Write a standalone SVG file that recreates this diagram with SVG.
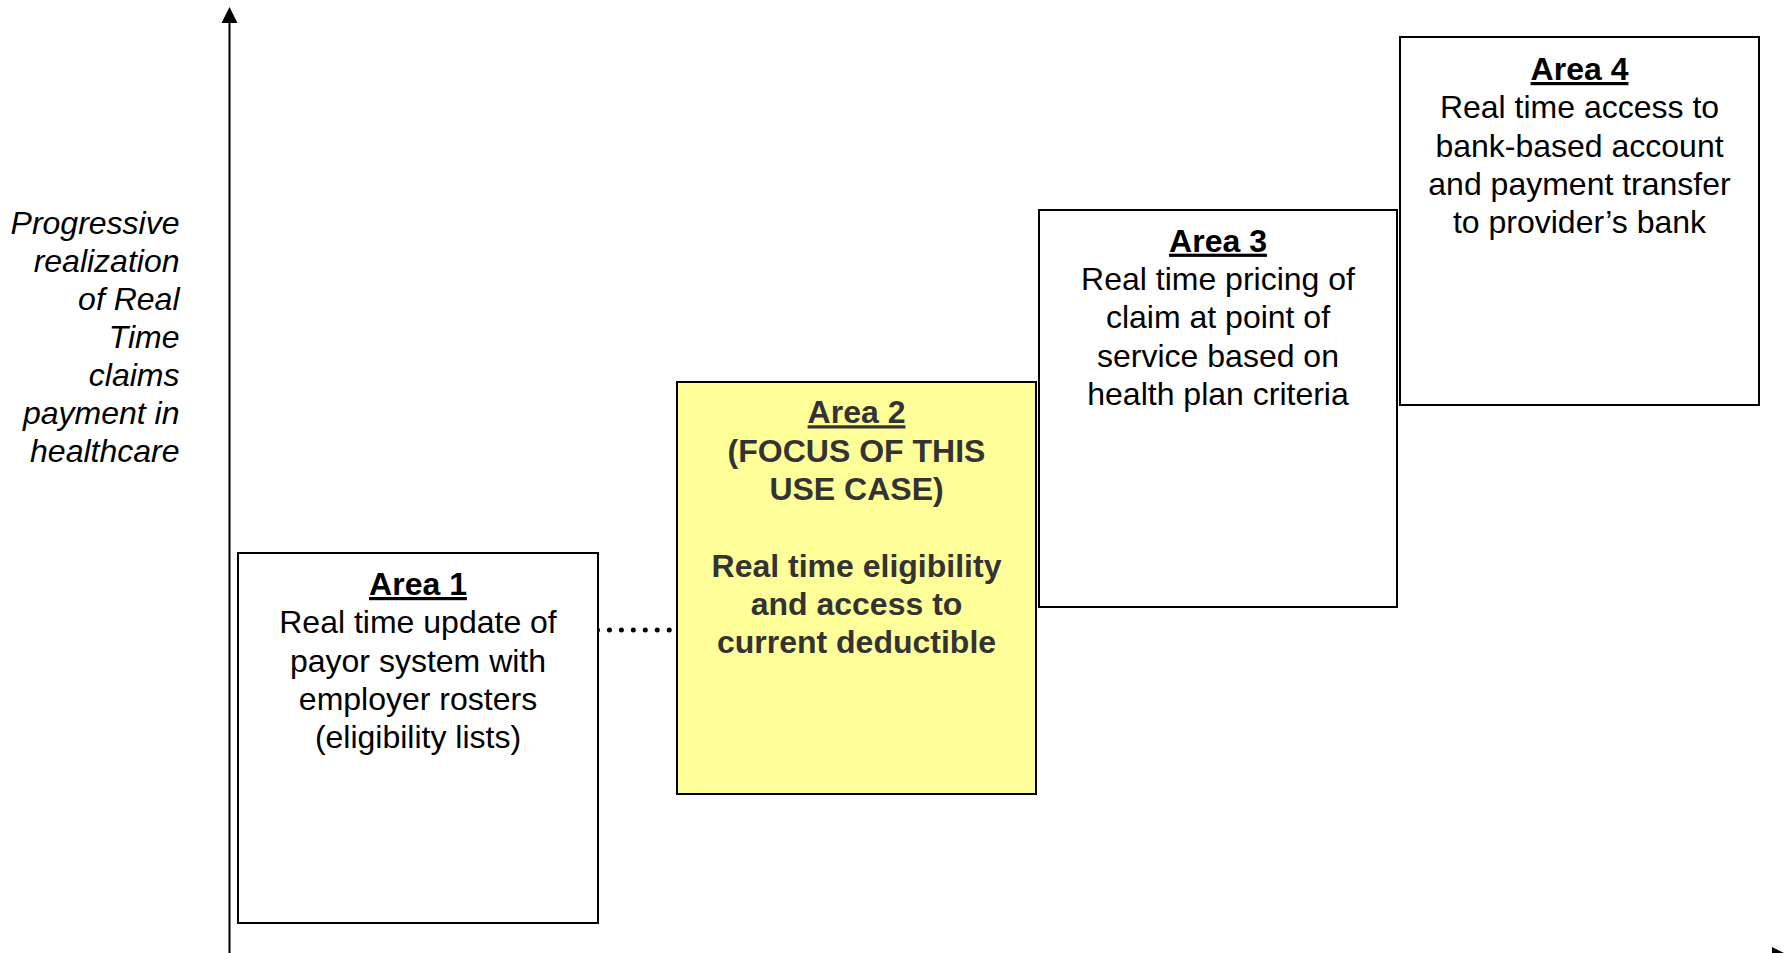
<svg xmlns="http://www.w3.org/2000/svg" width="1785" height="953" viewBox="0 0 1785 953">
  <style>
    .box { fill: #ffffff; stroke: #000000; stroke-width: 2; }
    .focus { fill: #ffff99; stroke: #000000; stroke-width: 2; }
    .txt { font-family: "Liberation Sans", Arial, sans-serif; font-size: 32px; fill: #000000; text-anchor: middle; }
    .dark { fill: #333333; font-weight: bold; }
    .title { font-weight: bold; text-decoration: underline; }
    .axis { stroke: #000000; stroke-width: 2; fill: none; }
    .label { font-family: "Liberation Sans", Arial, sans-serif; font-size: 32px; font-style: italic; fill: #000000; text-anchor: end; }
  </style>

  <!-- axes -->
  <g id="axes">
    <line class="axis" x1="229.5" y1="953" x2="229.5" y2="22"/>
    <polygon points="221.5,23 229.5,7 237.5,23" fill="#000000"/>
    <line class="axis" x1="229.5" y1="955" x2="1773" y2="955"/>
    <polygon points="1772,947 1788,955 1772,963" fill="#000000"/>
  </g>

  <!-- vertical axis caption -->
  <g id="axis-label">
    <text class="label" x="179.5" y="234">Progressive</text>
    <text class="label" x="179.5" y="272">realization</text>
    <text class="label" x="179.5" y="310">of Real</text>
    <text class="label" x="179.5" y="348">Time</text>
    <text class="label" x="179.5" y="386">claims</text>
    <text class="label" x="179.5" y="424">payment in</text>
    <text class="label" x="179.5" y="462">healthcare</text>
  </g>

  <!-- connectors -->
  <g id="connectors">
    <line x1="597.5" y1="630" x2="670" y2="630" stroke="#000000" stroke-width="5" stroke-linecap="round" stroke-dasharray="0 11.95"/>
  </g>

  <g id="area1">
    <rect class="box" x="238" y="553" width="360" height="370"/>
    <text class="txt title" x="418" y="595">Area 1</text>
    <text class="txt" x="418" y="633.3">Real time update of</text>
    <text class="txt" x="418" y="671.6">payor system with</text>
    <text class="txt" x="418" y="709.9">employer rosters</text>
    <text class="txt" x="418" y="748.2">(eligibility lists)</text>
  </g>

  <g id="area2">
    <rect class="focus" x="677" y="382" width="359" height="412"/>
    <text class="txt dark title" x="856.5" y="423.3">Area 2</text>
    <text class="txt dark" x="856.5" y="461.6">(FOCUS OF THIS</text>
    <text class="txt dark" x="856.5" y="499.9">USE CASE)</text>
    <text class="txt dark" x="856.5" y="576.5">Real time eligibility</text>
    <text class="txt dark" x="856.5" y="614.8">and access to</text>
    <text class="txt dark" x="856.5" y="653.1">current deductible</text>
  </g>

  <g id="area3">
    <rect class="box" x="1039" y="210" width="358" height="397"/>
    <text class="txt title" x="1218" y="251.7">Area 3</text>
    <text class="txt" x="1218" y="290">Real time pricing of</text>
    <text class="txt" x="1218" y="328.3">claim at point of</text>
    <text class="txt" x="1218" y="366.6">service based on</text>
    <text class="txt" x="1218" y="404.9">health plan criteria</text>
  </g>

  <g id="area4">
    <rect class="box" x="1400" y="37" width="359" height="368"/>
    <text class="txt title" x="1579.5" y="80">Area 4</text>
    <text class="txt" x="1579.5" y="118.3">Real time access to</text>
    <text class="txt" x="1579.5" y="156.6">bank-based account</text>
    <text class="txt" x="1579.5" y="194.9">and payment transfer</text>
    <text class="txt" x="1579.5" y="233.2">to provider’s bank</text>
  </g>
</svg>
